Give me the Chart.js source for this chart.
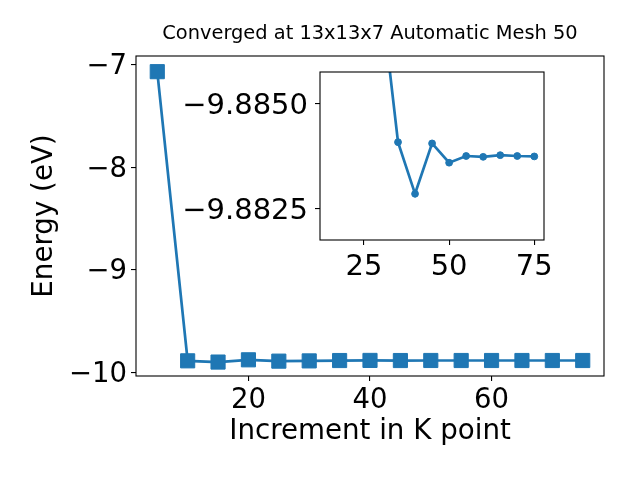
<!DOCTYPE html>
<html>
<head>
<meta charset="utf-8">
<script src="https://cdn.jsdelivr.net/npm/chart.js@4"></script>
<style>
  html, body { margin: 0; padding: 0; background: #fff; }
  #wrap { position: relative; width: 640px; height: 480px; }
  canvas { position: absolute; left: 0; top: 0; }
</style>
</head>
<body>
<div id="wrap">
  <canvas id="mainChart" width="640" height="480"></canvas>
  <canvas id="insetChart" width="640" height="480"></canvas>
</div>
<script>
// --- data ---
const kPoints = [5, 10, 15, 20, 25, 30, 35, 40, 45, 50, 55, 60, 65, 70, 75];
const energy = [-7.065, -9.887, -9.899, -9.877, -9.890, -9.8876, -9.8841, -9.8829, -9.8841, -9.8836, -9.8838, -9.8837, -9.8838, -9.8838, -9.8838];

const insetK = [30, 35, 40, 45, 50, 55, 60, 65, 70, 75];
const insetEnergy = [-9.8876, -9.88409, -9.88286, -9.88406, -9.88360, -9.88376, -9.88374, -9.88378, -9.88376, -9.88375];

const xTicks = [20, 40, 60];
const yTicks = [-7, -8, -9, -10];
const insetXTicks = [25, 50, 75];
const insetYTicks = [-9.8850, -9.8825];

const titleText = 'Converged at 13x13x7 Automatic Mesh 50';
const blue = '#1f77b4';
const FONT = "'DejaVu Sans', sans-serif";

const minus = s => String(s).replace('-', '\u2212');

// box around the plot + optional white face + title
const frame = {
    id: 'frame',
    beforeDraw(chart, args, opts) {
        if (!opts.face) return;
        const a = chart.chartArea, ctx = chart.ctx;
        ctx.save();
        ctx.fillStyle = '#fff';
        ctx.fillRect(a.left, a.top, a.right - a.left, a.bottom - a.top);
        ctx.restore();
    },
    afterDraw(chart, args, opts) {
        const a = chart.chartArea, ctx = chart.ctx;
        ctx.save();
        ctx.strokeStyle = '#000';
        ctx.lineWidth = 1.1;
        ctx.strokeRect(a.left, a.top, a.right - a.left, a.bottom - a.top);
        if (opts.title) {
            ctx.fillStyle = '#000';
            ctx.font = '19.4px ' + FONT;
            ctx.textAlign = 'center';
            ctx.textBaseline = 'alphabetic';
            ctx.fillText(opts.title, (a.left + a.right) / 2, 39);
        }
        ctx.restore();
    }
};

function axis(ticks, min, max, fontSize, pad, extra) {
    return Object.assign({
        type: 'linear',
        min: min,
        max: max,
        afterBuildTicks: s => { s.ticks = ticks.map(v => ({ value: v })); },
        border: { display: false },
        grid: { display: true, drawOnChartArea: false, drawTicks: true, tickLength: 5, tickColor: '#000', lineWidth: 1.1 },
        ticks: { color: '#000', font: { family: FONT, size: fontSize }, padding: pad, maxRotation: 0, autoSkip: false }
    }, extra);
}

// Main chart
const mainChart = new Chart(document.getElementById('mainChart'), {
    type: 'line',
    data: {
        datasets: [{
            data: kPoints.map((k, i) => ({ x: k, y: energy[i] })),
            borderColor: blue, backgroundColor: blue, borderWidth: 2.7,
            pointStyle: 'rect', pointRadius: 10, pointBorderWidth: 1, tension: 0
        }]
    },
    options: {
        responsive: false, animation: false, devicePixelRatio: 1,
        layout: { padding: { top: 56, right: 36, left: 0, bottom: 0 } },
        plugins: { legend: { display: false }, tooltip: { enabled: false }, frame: { title: titleText } },
        scales: {
            x: axis(xTicks, 1.5, 78.5, 27.5, 3, {
                afterFit: s => { s.height = 104; },
                title: { display: true, text: 'Increment in K point', color: '#000', font: { family: FONT, size: 27.7 }, padding: { top: 0, bottom: 32 } }
            }),
            y: axis(yTicks, -10.035, -6.912, 27.5, 4, {
                afterFit: s => { s.width = 136; },
                title: { display: true, text: 'Energy (eV)', color: '#000', font: { family: FONT, size: 27.7 }, padding: { top: 28, bottom: 0 } }
            })
        }
    },
    plugins: [frame]
});
mainChart.options.scales.y.ticks.callback = v => minus(v);
mainChart.options.scales.y.ticks.labelOffset = 2;
mainChart.update();

// Inset
const inset = new Chart(document.getElementById('insetChart'), {
    type: 'line',
    data: {
        datasets: [{
            data: insetK.map((k, i) => ({ x: k, y: insetEnergy[i] })),
            borderColor: blue, backgroundColor: blue, borderWidth: 2.7,
            pointStyle: 'circle', pointRadius: 3.4, pointBorderWidth: 1, tension: 0, clip: 0
        }]
    },
    options: {
        responsive: false, animation: false, devicePixelRatio: 1,
        layout: { padding: { top: 72, right: 96, left: 0, bottom: 0 } },
        plugins: { legend: { display: false }, tooltip: { enabled: false }, frame: { face: true } },
        scales: {
            x: axis(insetXTicks, 12.1, 77.85, 29, 5, { afterFit: s => { s.height = 240; } }),
            y: axis(insetYTicks, -9.88576, -9.88176, 29, 7, {
                reverse: true,
                afterFit: s => { s.width = 320; }
            })
        }
    },
    plugins: [frame]
});
inset.options.scales.y.ticks.callback = v => minus(v.toFixed(4));
inset.options.scales.y.ticks.labelOffset = 3;
inset.update();
</script>
</body>
</html>
